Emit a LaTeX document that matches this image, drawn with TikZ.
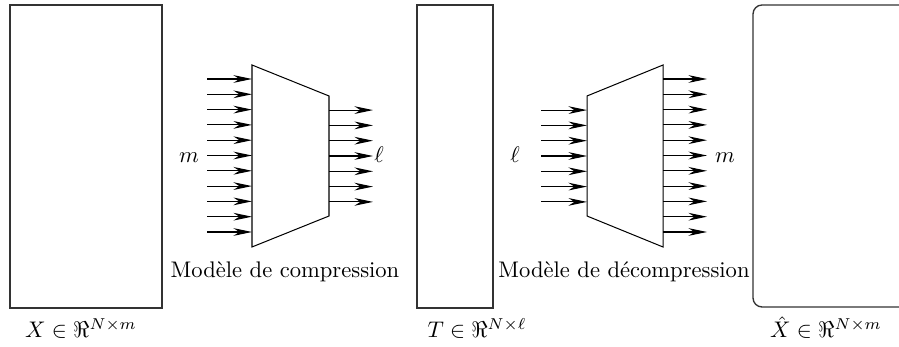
\documentclass[tikz,border=0pt]{standalone}
\usetikzlibrary{arrows.meta}

\begin{document}
\begin{tikzpicture}[x=0.443pt,y=-0.443pt,
    mat/.style={draw=black!80,line width=0.6pt},
    blk/.style={draw=black,line width=0.45pt},
    arr/.style={-{Stealth[length=8.2pt,width=3.4pt,inset=2.6pt]},line width=0.5pt},
    lbl/.style={inner sep=0pt,anchor=base}]
  \path[use as bounding box,clip] (0,0) rectangle (899,347);
  % matrices
  \draw[mat] (10,5) rectangle (162,308);
  \draw[mat] (417,5) rectangle (493,308);
  \draw[mat,rounded corners=4pt] (753,5) rectangle (940,307);
  \node[lbl] (labX) at (81,338) {$X \in \Re^{N\times m}$};
  \node[lbl] (labT) at (477,338) {$T \in \Re^{N\times \ell}$};
  \node[lbl] (labXh) at (826,338) {$\hat{X} \in \Re^{N\times m}$};
  % compression model
  \draw[blk] (252,65) coordinate (c1) -- (329,96) coordinate (c2)
    -- (329,216) -- (252,247) -- cycle;
  \foreach \k in {0,...,10}{
    \coordinate (ci\k) at (207,79+15.3*\k);
    \draw[arr] (ci\k) -- (ci\k -| c1);
  }
  \foreach \k in {0,...,6}{
    \coordinate (co\k) at (373,110.1+15.3*\k);
    \draw[arr] (co\k -| c2) -- (co\k);
  }
  \node[lbl] (mIn) at (189,163) {$m$};
  \node[lbl] (lOut) at (379,163) {$\ell$};
  \node[lbl] (comp) at (285,278) {Modèle de compression};
  % decompression model
  \draw[blk] (587,96) coordinate (d1) -- (663,65) coordinate (d2)
    -- (663,247) -- (587,216) -- cycle;
  \foreach \k in {0,...,6}{
    \coordinate (di\k) at (541,110.1+15.3*\k);
    \draw[arr] (di\k) -- (di\k -| d1);
  }
  \foreach \k in {0,...,10}{
    \coordinate (do\k) at (707,79+15.3*\k);
    \draw[arr] (do\k -| d2) -- (do\k);
  }
  \node[lbl] (lIn) at (515,163) {$\ell$};
  \node[lbl] (mOut) at (725,163) {$m$};
  \node[lbl] (decomp) at (624,278) {Modèle de décompression};
\end{tikzpicture}
\end{document}
